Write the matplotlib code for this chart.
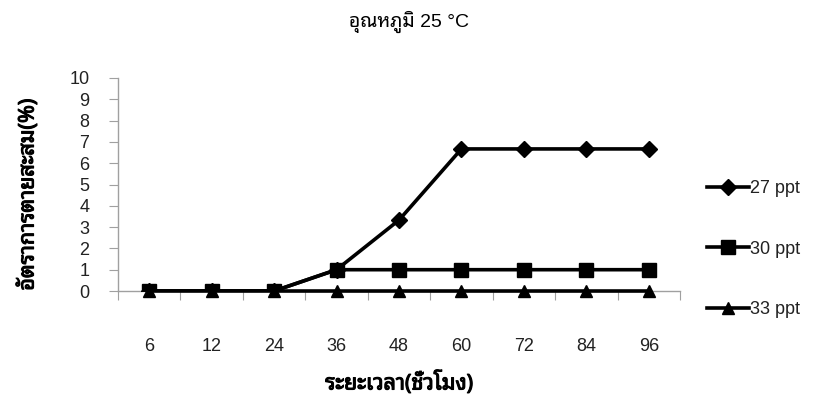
import matplotlib
matplotlib.use("Agg")
import matplotlib.pyplot as plt
import matplotlib.patheffects as pe
from matplotlib.ticker import FixedLocator, NullFormatter

# ---- data ----
hours = ["6", "12", "24", "36", "48", "60", "72", "84", "96"]
s27 = [0, 0, 0, 1, 3.33, 6.67, 6.67, 6.67, 6.67]
s30 = [0, 0, 0, 1, 1, 1, 1, 1, 1]
s33 = [0, 0, 0, 0, 0, 0, 0, 0, 0]
series_labels = ["27 ppt", "30 ppt", "33 ppt"]
yticks = list(range(0, 11))

title = "อุณหภูมิ 25 °C"
xlabel = "ระยะเวลา(ชั่วโมง)"
ylabel = "อัตราการตายสะสม(%)"

FAM = ["Liberation Sans", "Noto Sans Thai Looped", "DejaVu Sans"]
TFAM = ["Noto Sans Thai Looped", "Liberation Sans", "DejaVu Sans"]
plt.rcParams["font.family"] = FAM

fig = plt.figure(figsize=(8.16, 4.18), dpi=100)
W, H = 816, 418
ax = fig.add_axes([118 / W, 1 - 291 / H, (680 - 118) / W, (291 - 78) / H])

x = list(range(len(hours)))
ax.plot(x, s27, color="black", lw=2.6, marker="D", ms=8, label=series_labels[0], zorder=5)
ax.plot(x, s30, color="black", lw=2.6, marker="s", ms=9.5, label=series_labels[1], zorder=5)
ax.plot(x, s33, color="black", lw=2.6, marker="^", ms=9, label=series_labels[2], zorder=5, clip_on=False)

ax.set_xlim(-0.5, len(hours) - 0.5)
ax.set_ylim(0, 10)

axis_col = "#a0a0a0"
for side in ["top", "right"]:
    ax.spines[side].set_visible(False)
for side in ["left", "bottom"]:
    ax.spines[side].set_color(axis_col)
    ax.spines[side].set_linewidth(1.0)
    ax.spines[side].set_zorder(1)

ax.set_xticks(x)
ax.set_xticklabels(hours)
ax.xaxis.set_minor_locator(FixedLocator([i - 0.5 for i in range(len(hours) + 1)]))
ax.xaxis.set_minor_formatter(NullFormatter())
ax.tick_params(axis="x", which="major", length=0, pad=47 * 0.72, labelsize=13, labelcolor="#222222")
ax.tick_params(axis="x", which="minor", length=6.2, width=0.8, color=axis_col, direction="out")

ax.set_yticks(yticks)
ax.tick_params(axis="y", which="major", length=6.2, width=0.8, color=axis_col, direction="out",
               pad=20 * 0.72, labelsize=13, labelcolor="#222222")
for lab in ax.get_yticklabels():
    lab.set_verticalalignment("center_baseline")

bold = [pe.withStroke(linewidth=0.8, foreground="black")]
fig.text(409 / W, 1 - 22 / H, title, ha="center", va="center", fontsize=14, family=FAM)
fig.text(399 / W, 1 - 383 / H, xlabel, ha="center", va="center", fontsize=15.5,
         family=TFAM, path_effects=bold)
fig.text(28 / W, 1 - 195 / H, ylabel, ha="center", va="center", rotation=90, fontsize=15.5,
         family=TFAM, path_effects=bold)

leg = ax.legend(loc="center left", bbox_to_anchor=(707 / W, 1 - 249 / H),
                bbox_transform=fig.transFigure, frameon=False, fontsize=13,
                handlelength=2.3, handletextpad=0.1, labelspacing=2.4,
                borderaxespad=0, borderpad=0, markerscale=1.0)
for t in leg.get_texts():
    t.set_color("#222222")

fig.savefig("out.png", dpi=100)
